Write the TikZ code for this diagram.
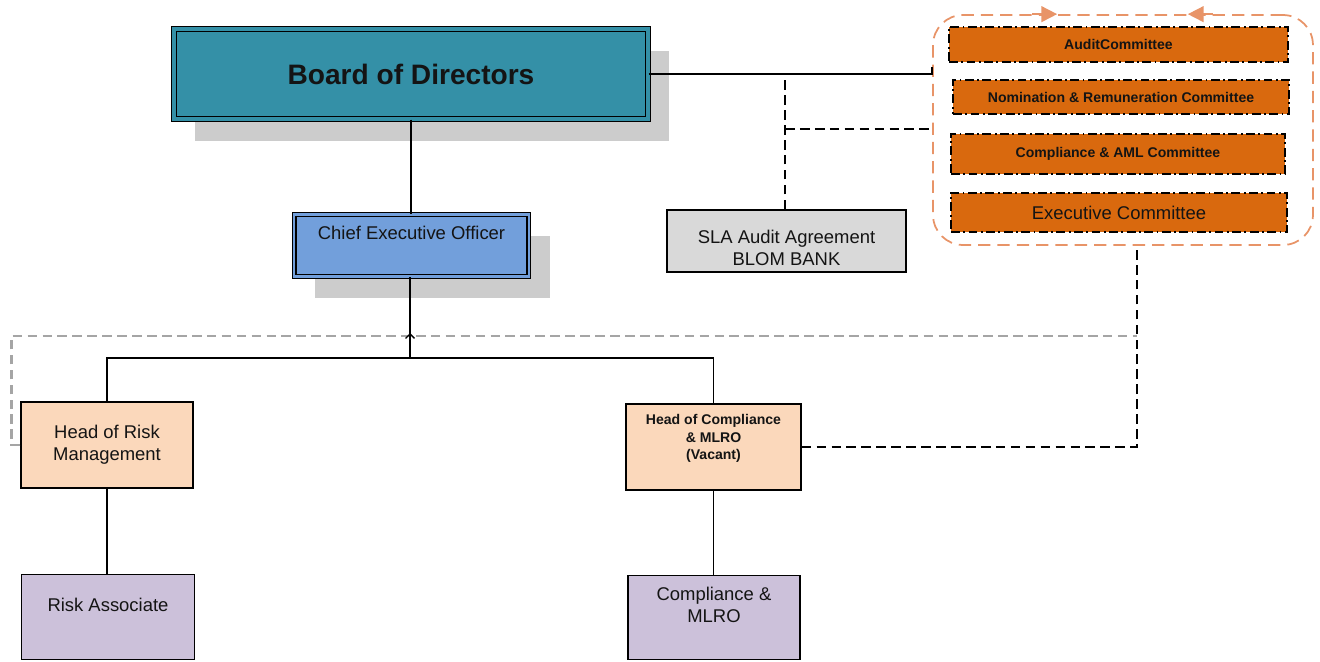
\documentclass[tikz,border=0pt]{standalone}
\usepackage{fontspec}
\setmainfont{Liberation Sans}
\usetikzlibrary{positioning,arrows.meta,calc,shadows}
\definecolor{colorboard}    {RGB}{ 52,144,167}
\definecolor{colorofficer}  {RGB}{114,159,219}
\definecolor{colorhead}     {RGB}{251,216,187}
\definecolor{colorstaff}    {RGB}{204,193,218}
\definecolor{colorcommittee}{RGB}{217,105, 14}
\definecolor{colorframe}    {RGB}{232,148,104}
\definecolor{colorsla}      {RGB}{217,217,217}
\definecolor{colorshadow}   {RGB}{204,204,204}
\definecolor{colorgraydash} {RGB}{165,165,165}
\definecolor{colortext}     {RGB}{ 20, 20, 20}

\begin{document}
\begin{tikzpicture}[
    x=0.02cm, y=-0.02cm,
    every node/.style={align=center, inner sep=0pt, text=colortext},
    body/.style={font={\fontsize{10.5}{12.5}\selectfont}},
    small/.style={font={\fontsize{8}{10}\selectfont\bfseries}},
    board/.style={draw=black, line width=0.8pt, double=colorboard, double distance=2pt, fill=colorboard,
        minimum width=9.48cm, minimum height=1.8cm, font={\fontsize{16}{19}\selectfont\bfseries},
        general shadow={fill=colorshadow, shadow xshift=0.42cm, shadow yshift=-0.44cm}},
    officer/.style={body, draw=black, line width=0.8pt, double=colorofficer, double distance=1.2pt, fill=colorofficer,
        minimum width=4.69cm, minimum height=1.24cm,
        general shadow={fill=colorshadow, shadow xshift=0.42cm, shadow yshift=-0.44cm}},
    plainbox/.style={body, draw=black, line width=0.8pt},
    head/.style={plainbox, fill=colorhead, minimum width=3.44cm, minimum height=1.72cm},
    staff/.style={plainbox, fill=colorstaff, minimum width=3.46cm, minimum height=1.69cm},
    committee/.style={draw=black, line width=0.8pt, fill=colorcommittee, dash pattern=on 5pt off 2pt on 1pt off 2pt},
    frame/.style={draw=colorframe, line width=1pt, dash pattern=on 7pt off 4pt, rounded corners=0.6cm,
        minimum width=7.6cm, minimum height=4.6cm},
    link/.style={draw=black, line width=0.8pt},
    dashlink/.style={draw=black, line width=0.8pt, dash pattern=on 5.5pt off 3pt},
    graylink/.style={draw=colorgraydash, line width=1.5pt, dash pattern=on 5.5pt off 3pt}
]
    \useasboundingbox (0,0) rectangle (1320,662);

    % Board of Directors
    \node[board] (board) at (411,74) {Board of Directors};

    % Chief Executive Officer
    \node[officer, text depth=0.5cm] (ceo) at (411.5,245.5) {Chief Executive Officer};

    % SLA audit agreement
    \node[plainbox, fill=colorsla, minimum width=4.78cm, minimum height=1.24cm, text height=1.0cm] (sla) at (786.5,241)
        {SLA Audit Agreement\\BLOM BANK};

    % Committees
    \node[frame] (frame) at (1123,130) {};
    \node[committee, small, minimum width=6.78cm, minimum height=0.7cm] (audit) at (1118.5,44.5) {AuditCommittee};
    \node[committee, small, minimum width=6.72cm, minimum height=0.68cm] (nomination) at (1121,97) {Nomination \& Remuneration Committee};
    \node[committee, small, minimum width=6.68cm, minimum height=0.8cm] (compaml) at (1118,154) {Compliance \& AML Committee};
    \node[committee, body, minimum width=6.72cm, minimum height=0.78cm] (executive) at (1119,212.5) {Executive Committee};

    % Arrows on the committee frame
    \draw[frame, -{Triangle[length=9pt,width=9pt]}] ($(frame.north west)+(100,0)$) -- ($(frame.north west)+(125,0)$);
    \draw[frame, -{Triangle[length=9pt,width=9pt]}] ($(frame.north east)+(-101,0)$) -- ($(frame.north east)+(-126,0)$);

    % Heads
    \node[head] (headrisk) at (107,445) {Head of Risk\\Management};
    \node[head, small, minimum width=3.5cm, text depth=0.4cm] (headcomp) at (713.5,447) {Head of Compliance\\\& MLRO\\(Vacant)};

    % Staff
    \node[staff, text depth=0.48cm] (riskassoc) at (108,617) {Risk Associate};
    \node[staff, minimum width=3.44cm, text depth=0.5cm] (compmlro) at (714,617.5) {Compliance \&\\MLRO};

    % Board links
    \draw[link] (board.south) -- (board.south |- ceo.north);
    \draw[link] (board.east) -- (board.east -| frame.west) -- ++(0,-7);
    \coordinate (slajoin) at (785,129);
    \draw[dashlink] (sla.north -| slajoin) -- (slajoin |- board.east);
    \draw[dashlink] (slajoin) -- (slajoin -| frame.west);

    % Reporting lines
    \coordinate (split) at (410,358);
    \draw[link] (ceo.south -| split) -- (split);
    \draw[link] (headrisk.north) |- (split) -| (headcomp.north);
    \draw[link] (headrisk.south) -- (headrisk.south |- riskassoc.north);
    \draw[link] (headcomp.south) -- (headcomp.south |- compmlro.north);

    % Dashed reporting to the committees
    \coordinate (execdrop) at ($(frame.south)+(14,0)$);
    \draw[graylink] (headrisk.west) -- ++(-9,0) |- ($(execdrop)+(0,90)$);
    \draw[dashlink] (headcomp.east) -| (execdrop);
    \draw[link, -{Straight Barb[length=2.5pt,width=5pt]}] (split) -- ++(0,-25);

\end{tikzpicture}
\end{document}
